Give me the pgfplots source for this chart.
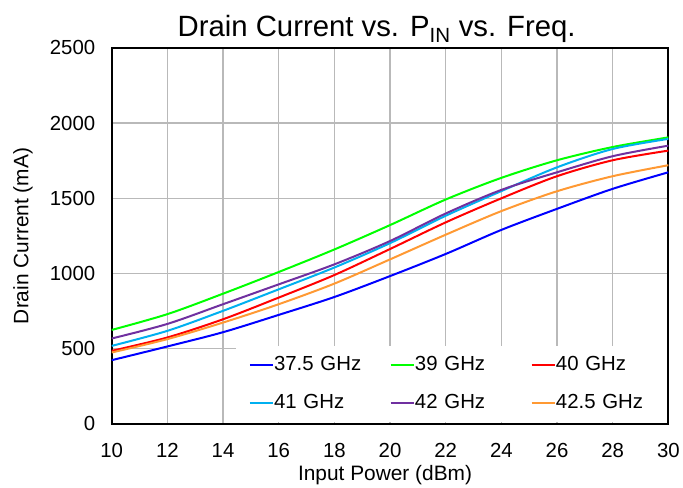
\documentclass[border=0pt]{standalone}
\usepackage{fontspec}
\setmainfont{Liberation Sans}
\usepackage{pgfplots}
\pgfplotsset{compat=1.18}

\definecolor{c375}{RGB}{0,0,255}
\definecolor{c39}{RGB}{0,255,0}
\definecolor{c40}{RGB}{255,0,0}
\definecolor{c41}{RGB}{0,176,240}
\definecolor{c42}{RGB}{112,48,160}
\definecolor{c425}{RGB}{255,153,51}

\begin{document}
\begin{tikzpicture}
  \begin{axis}[
      name=ax,
      scale only axis,
      width=558bp, height=377bp,
      xmin=10, xmax=30, ymin=0, ymax=2500,
      xtick={10,12,...,30},
      ytick={0,500,...,2500},
      grid=major,
      grid style={draw=gray!55, line width=1.5bp},
      major tick length=0pt,
      axis line style={line width=2bp},
      /pgf/number format/assume math mode=true,
      /pgf/number format/set thousands separator={},
      ticklabel style={font=\fontsize{20.5}{24}\selectfont},
      yticklabel style={xshift=-13bp},
      xticklabel style={yshift=-16bp},
      xlabel={Input Power (dBm)},
      ylabel={Drain Current (mA)},
      label style={font=\fontsize{21}{25}\selectfont},
      xlabel style={at={(rel axis cs:0.5,0)}, anchor=center, yshift=-51bp, xshift=-5bp},
      ylabel style={at={(rel axis cs:0,0.5)}, anchor=center, yshift=89bp},
      title={Drain Current vs. P\textsubscript{IN} vs. Freq.},
      title style={font=\fontsize{29.5}{34}\selectfont, at={(rel axis cs:0.5,1)},
        anchor=base, yshift=5bp, xshift=-13.5bp},
      legend columns=3,
      legend cell align=left,
      legend image code/.code={
        \path (0bp,0bp);
        \draw[#1, line width=2bp] (9bp,0bp) -- (32.3bp,0bp);},
      legend style={
        at={(rel axis cs:1,0)}, xshift=-1.5bp, yshift=1.5bp,
        anchor=south east, draw=none, fill=white,
        font=\fontsize{20.5}{24}\selectfont,
        inner xsep=4bp, inner ysep=9bp,
        nodes={text width=107bp, inner xsep=0bp, inner ysep=0bp,
          text height=15bp, text depth=5bp, anchor=west},
        row sep=18bp,
      },
      every axis plot/.append style={line width=2bp, smooth},
    ]
    \addplot[c375] coordinates {(10,424) (12,515) (14,610) (16,725) (18,844) (20,983) (22,1130) (24,1290) (26,1430) (28,1563) (30,1673)};
    \addlegendentry{37.5 GHz}
    \addplot[c39] coordinates {(10,625) (12,730) (14,866) (16,1010) (18,1160) (20,1322) (22,1492) (24,1636) (26,1753) (28,1841) (30,1905)};
    \addlegendentry{39 GHz}
    \addplot[c40] coordinates {(10,486) (12,575) (14,696) (16,840) (18,990) (20,1163) (22,1340) (24,1500) (26,1647) (28,1753) (30,1817)};
    \addlegendentry{40 GHz}
    \addplot[c41] coordinates {(10,519) (12,619) (14,752) (16,895) (18,1040) (20,1202) (22,1384) (24,1548) (26,1706) (28,1828) (30,1895)};
    \addlegendentry{41 GHz}
    \addplot[c42] coordinates {(10,568) (12,665) (14,796) (16,928) (18,1061) (20,1216) (22,1399) (24,1556) (26,1673) (28,1780) (30,1850)};
    \addlegendentry{42 GHz}
    \addplot[c425] coordinates {(10,475) (12,564) (14,674) (16,796) (18,933) (20,1094) (22,1258) (24,1415) (26,1547) (28,1647) (30,1720)};
    \addlegendentry{42.5 GHz}
  \end{axis}
  \path ([shift={(-112bp,-60bp)}]ax.south west) rectangle ([shift={(13bp,48bp)}]ax.north east);
\end{tikzpicture}
\end{document}
